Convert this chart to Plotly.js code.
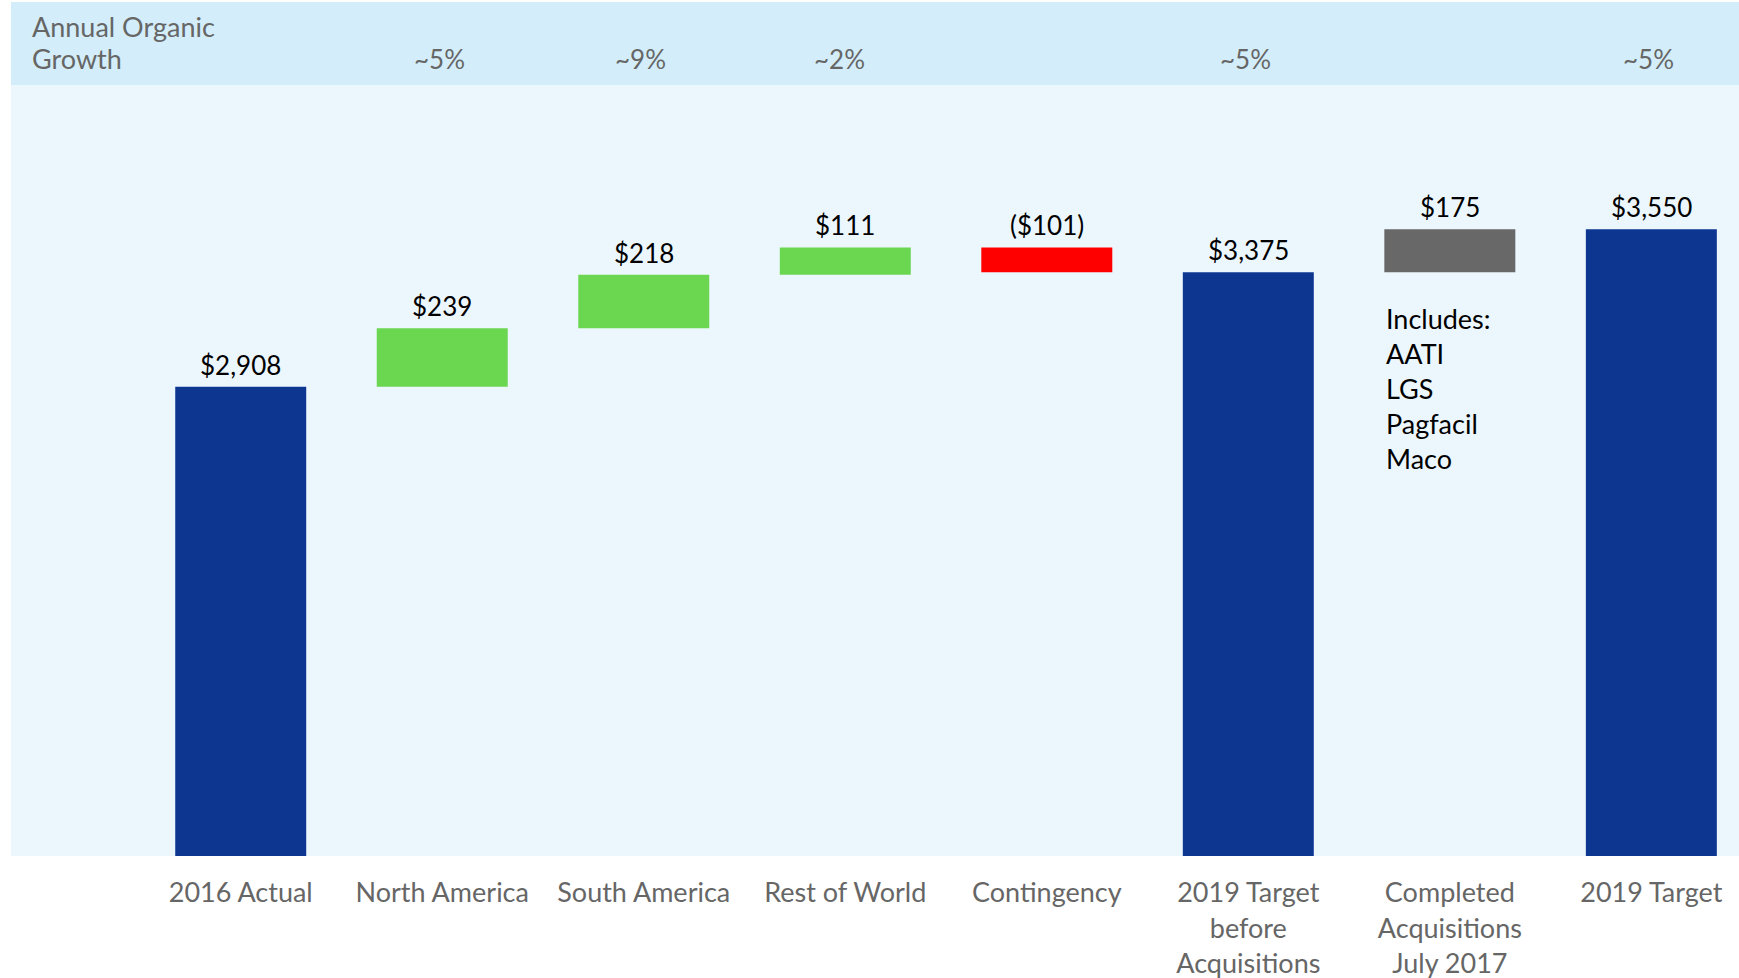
<!DOCTYPE html>
<html>
<head>
<meta charset="utf-8">
<script src="https://cdn.plot.ly/plotly-3.0.1.min.js"></script>
<style>
    html, body { margin: 0; padding: 0; background: #ffffff; }
    #chart { width: 1739px; height: 978px; }
</style>
</head>
<body>
<div id="chart"></div>
<script>
// Chart data
const categories = ['2016 Actual', 'North America', 'South America', 'Rest of World', 'Contingency',
    '2019 Target<br>before<br>Acquisitions', 'Completed<br>Acquisitions<br>July 2017', '2019 Target'];
const values = [2908, 239, 218, 111, -101, 3375, 175, 3550];
const measures = ['total', 'relative', 'relative', 'relative', 'relative', 'total', 'relative', 'total'];
const valueLabels = ['$2,908', '$239', '$218', '$111', '($101)', '$3,375', '$175', '$3,550'];
const barColors = ['#0d3691', '#6bd650', '#6bd650', '#6bd650', '#ff0000', '#0d3691', '#686868', '#0d3691'];
const growthLabels = ['', '~5%', '~9%', '~2%', '', '~5%', '', '~5%'];
const headerLines = ['Annual Organic', 'Growth'];
const acquisitions = ['AATI', 'LGS', 'Pagfacil', 'Maco'];

const FONT = 'Lato, "Open Sans", sans-serif';
const GREY = '#666666';

document.addEventListener("DOMContentLoaded", function () {
    drawChart();
});

// running totals -> floating bar bases
function buildBars() {
    let running = 0;
    const bases = [];
    const tops = [];
    values.forEach(function (v, i) {
        if (measures[i] === 'total') {
            bases.push(0);
            running = v;
            tops.push(v);
        } else {
            bases.push(running);
            tops.push(Math.max(running, running + v));
            running += v;
        }
    });
    return { bases, tops };
}

function drawChart() {
    const xIdx = categories.map((c, i) => i);
    const { bases, tops } = buildBars();

    const trace = {
        type: 'bar',
        x: xIdx,
        y: values,
        base: bases,
        width: 0.65,
        marker: { color: barColors },
        hoverinfo: 'none',
    };

    const annotations = [];

    // value labels above each bar
    xIdx.forEach(function (i) {
        annotations.push({
            x: i, y: tops[i], xref: 'x', yref: 'y',
            text: valueLabels[i],
            showarrow: false,
            yanchor: 'middle',
            yshift: 22,
            font: { family: FONT, size: 26, color: '#000000' },
        });
    });

    // header band texts
    const headerY = [1.0757, 1.034];
    headerLines.forEach(function (line, i) {
        annotations.push({
            x: 0.011, y: headerY[i], xref: 'paper', yref: 'paper',
            text: line,
            xanchor: 'left', yanchor: 'middle',
            showarrow: false,
            font: { family: FONT, size: 27, color: GREY },
        });
    });
    growthLabels.forEach(function (g, i) {
        if (!g) return;
        annotations.push({
            x: i, y: 1.034, xref: 'x', yref: 'paper',
            text: g, showarrow: false, yanchor: 'middle',
            xshift: i === 3 ? -6 : -3,
            font: { family: FONT, size: 26, color: GREY },
        });
    });

    // acquisitions note
    annotations.push({
        x: 6, y: tops[6], xref: 'x', yref: 'y',
        text: ['Includes:'].concat(acquisitions).join('<br>'),
        align: 'left', xanchor: 'left', yanchor: 'top',
        xshift: -66, yshift: -71,
        showarrow: false,
        font: { family: FONT, size: 27, color: '#000000' },
    });

    const layout = {
        width: 1739,
        height: 978,
        margin: { l: 11, r: 0, t: 85, b: 122 },
        paper_bgcolor: '#ffffff',
        plot_bgcolor: '#ecf7fd',
        showlegend: false,
        xaxis: {
            range: [-1.14, 7.435],
            tickvals: xIdx,
            ticktext: categories,
            ticks: 'outside',
            ticklen: 13,
            tickcolor: 'rgba(0,0,0,0)',
            tickfont: { family: FONT, size: 27, color: GREY },
            showgrid: false,
            zeroline: false,
            showline: false,
            fixedrange: true,
        },
        yaxis: {
            range: [996, 4138],
            visible: false,
            showgrid: false,
            zeroline: false,
            fixedrange: true,
        },
        shapes: [{
            type: 'rect', xref: 'paper', yref: 'paper',
            x0: 0, x1: 1, y0: 1, y1: 1.1077,
            fillcolor: '#d3eefa', line: { width: 0 }, layer: 'below',
        }],
        annotations: annotations,
    };

    Plotly.newPlot('chart', [trace], layout, { displayModeBar: false, staticPlot: true });
}
</script>
</body>
</html>
